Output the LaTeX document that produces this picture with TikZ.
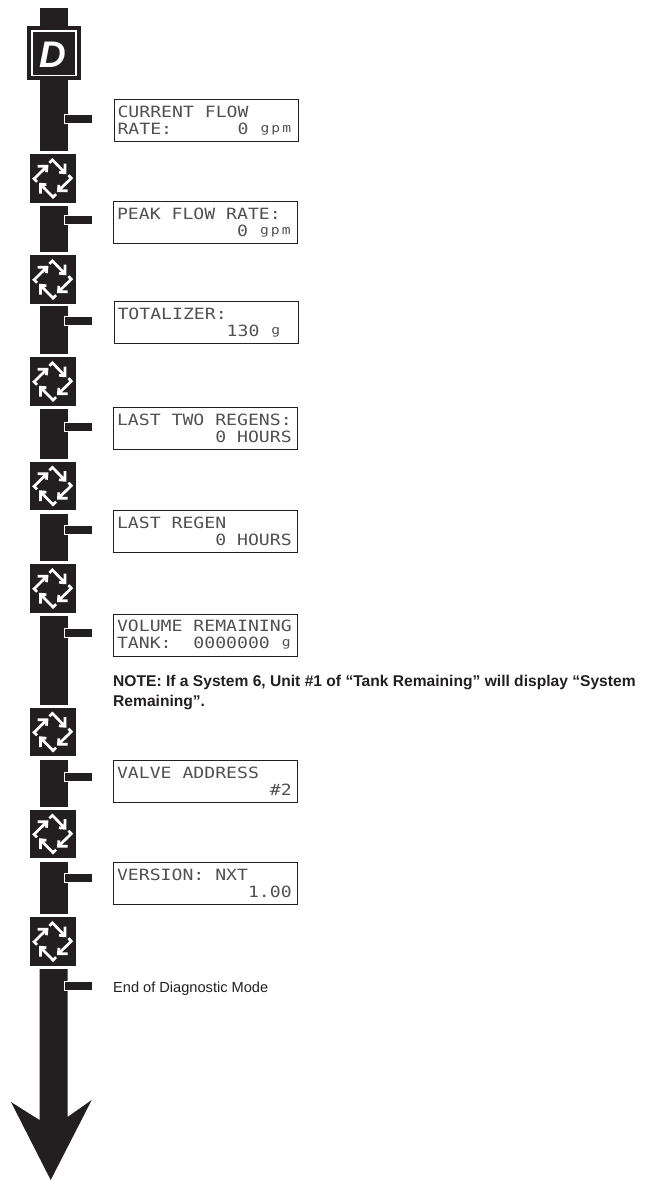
\documentclass[tikz,border=0pt]{standalone}
\usepackage{fontspec}
\usepackage{xcolor}
\setmainfont{Liberation Sans}
\newfontfamily\lcdfamily[FakeStretch=1.17]{DejaVu Sans Mono}
\definecolor{inkblack}{HTML}{231F20}
\definecolor{lcdink}{HTML}{505050}
\newcommand{\lcdpad}[1]{\hspace*{#1\dimexpr10.92pt\relax}}
\newcommand{\lcdunit}[1]{\makebox[10.92pt]{\raisebox{2pt}{\fontsize{12.5}{12.5}\selectfont #1}}}
\tikzset{
    stemfill/.style={fill=inkblack,draw=none},
    ticksign/.style={fill=inkblack,draw=white,line width=1pt},
    lcd/.style={draw=inkblack,line width=1pt,anchor=north west,minimum width=184pt,minimum height=42pt,
        inner xsep=3.5pt,inner ysep=0pt,text width=177pt,align=left,text=lcdink,
        font=\lcdfamily\fontsize{15.5}{17}\selectfont},
    noteline/.style={anchor=base west,inner sep=0pt,text=inkblack},
    cycleicon/.pic={
        \fill[inkblack] (-22.7,-24.3) rectangle (23,24.3);
        \foreach \turn in {0,90,180,270} {
            \draw[white,line width=2.7pt,rotate=\turn,miter limit=4]
                (-3.3,-15.7) -- (-0.3,-18.6) -- (12.3,-5.7) (6.3,-6.2) -- (12.3,-5.7) -- (12.3,-15);
        }
    }
}
\begin{document}
\begin{tikzpicture}[x=1pt,y=-1pt]
    \useasboundingbox (0,0) rectangle (645,1180);

    % stem pieces
    \foreach \top/\bot in {8/26,80/151,206/252,306/354,409/459,514/561,616/705,760/807,862/914}
        \fill[stemfill] (39.5,\top) rectangle (67.5,\bot);

    % down arrow
    \fill[stemfill] (39.5,969) -- (67.5,969) -- (67.5,1117) -- (91.7,1100) -- (50.7,1180)
        -- (11,1102) -- (39.5,1120) -- cycle;

    % mode button
    \fill[inkblack] (27,26) rectangle (80.5,80.5);
    \draw[white,line width=1.8pt] (32.3,31.3) rectangle (76.3,75.6);
    \node[inner sep=0pt,text=white,font=\fontsize{37}{37}\selectfont\bfseries\itshape] (modeD) at (53,55) {D};

    % scroll buttons
    \foreach \mid in {178.5,279.5,381.5,486,588.5,732,834,941.5}
        \pic at (52.7,\mid) {cycleicon};

    % ticks
    \foreach \mid in {118.7,220,321,426.7,530,632.7,776.7,878,985.7}
        \draw[ticksign] (64.5,\mid-4.5) rectangle (92.5,\mid+4.5);

    % displays
    \node[lcd] (flowrate) at (113.5,99) {CURRENT\lcdpad{1}FLOW\\RATE:\lcdpad{6}0\lcdpad{1}\lcdunit{g}\lcdunit{p}\lcdunit{m}};
    \node[lcd] (peakrate) at (113,201) {PEAK\lcdpad{1}FLOW\lcdpad{1}RATE:\\\lcdpad{11}0\lcdpad{1}\lcdunit{g}\lcdunit{p}\lcdunit{m}};
    \node[lcd] (totalizer) at (113.5,301) {TOTALIZER:\\\lcdpad{10}130\lcdpad{1}\lcdunit{g}};
    \node[lcd] (twogens) at (113,407) {LAST\lcdpad{1}TWO\lcdpad{1}REGENS:\\\lcdpad{9}0\lcdpad{1}HOURS};
    \node[lcd] (lastgen) at (113,510) {LAST\lcdpad{1}REGEN\\\lcdpad{9}0\lcdpad{1}HOURS};
    \node[lcd] (volume) at (113,613.5) {VOLUME\lcdpad{1}REMAINING\\TANK:\lcdpad{2}0000000\lcdpad{1}\lcdunit{g}};
    \node[lcd] (address) at (113,759.5) {VALVE\lcdpad{1}ADDRESS\\\lcdpad{14}\#2};
    \node[lcd] (version) at (113,861.5) {VERSION:\lcdpad{1}NXT\\\lcdpad{12}1.00};

    % notes
    \node[noteline,font=\fontsize{15.6}{15.6}\selectfont\bfseries] (noteone) at (113,686) {NOTE: If a System 6, Unit \#1 of “Tank Remaining” will display “System};
    \node[noteline,font=\fontsize{15.6}{15.6}\selectfont\bfseries] (notetwo) at (113,706) {Remaining”.};
    \node[noteline,font=\fontsize{14.6}{14.6}\selectfont] (endmode) at (113,992) {End of Diagnostic Mode};
\end{tikzpicture}
\end{document}
